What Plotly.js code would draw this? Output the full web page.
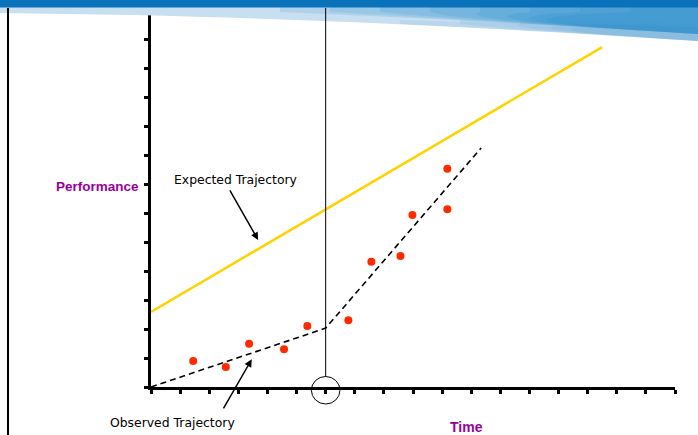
<!DOCTYPE html>
<html>
<head>
<meta charset="utf-8">
<script src="https://cdn.plot.ly/plotly-3.0.1.min.js"></script>
<style>html,body{margin:0;padding:0;background:#fff;}#chart{width:698px;height:435px;}</style>
</head>
<body>
<div id="chart"></div>
<script>
// ---- data ----
const expectedX = [0, 15.5];
const expectedY = [2.59, 11.72];
const observedX = [0, 6, 11.34];
const observedY = [0, 2.03, 8.24];
const pointsX = [1.45, 2.57, 3.37, 4.57, 5.37, 6.78, 7.57, 8.57, 8.98, 10.18, 10.18];
const pointsY = [0.90, 0.69, 1.49, 1.30, 2.10, 2.30, 4.32, 4.52, 5.93, 7.53, 6.13];
const interventionX = [6];
const xRange = [0, 18];
const yRange = [0, 13];
const labels = {x: 'Time', y: 'Performance', expected: 'Expected Trajectory', observed: 'Observed Trajectory'};

// ---- layout helpers (pixel -> paper) ----
const M = {l: 151, r: 23, t: 10, b: 48};
const PW = 698 - M.l - M.r, PH = 435 - M.t - M.b;
const px = x => (x - M.l) / PW;
const py = y => (435 - M.b - y) / PH;
const dx = v => (v - xRange[0]) / (xRange[1] - xRange[0]);
function path(pts){
  return pts.map(p => {
    let s = p[0];
    for (let i = 1; i < p.length; i += 2) s += ' ' + px(p[i]).toFixed(4) + ',' + py(p[i + 1]).toFixed(4);
    return s;
  }).join(' ');
}

const purple = '#990099';

const traces = [
  {x: expectedX, y: expectedY, mode: 'lines', line: {color: '#FFD200', width: 2.5}, hoverinfo: 'skip'},
  {x: observedX, y: observedY, mode: 'lines', line: {color: '#000', width: 1.6, dash: '6px,4px'}, hoverinfo: 'skip'},
  {x: pointsX, y: pointsY, mode: 'markers', marker: {color: '#FF2A00', size: 8}, hoverinfo: 'skip', cliponaxis: false}
];

const shapes = [];
// banner
shapes.push({type: 'path', xref: 'paper', yref: 'paper', line: {width: 0}, fillcolor: '#C8DEF1',
  path: path([['M', 0, 7], ['L', 698, 7], ['L', 698, 41], ['C', 520, 30, 300, 16, 0, 13], ['Z']])});
for (let i = 0; i < 8; i++) {
  const x0 = 280 + i * 50;
  shapes.push({type: 'path', xref: 'paper', yref: 'paper', line: {width: 0}, fillcolor: 'rgba(0,120,195,0.12)',
    path: path([['M', x0, 7], ['L', 698, 7], ['L', 698, 34], ['C', 600, 28, 450, 19, x0, 12], ['Z']])});
}
for (let i = 0; i < 5; i++) {
  const x0 = 400 + i * 60;
  shapes.push({type: 'path', xref: 'paper', yref: 'paper', line: {width: 0}, fillcolor: 'rgba(60,150,210,0.10)',
    path: path([['M', x0, 20], ['L', 698, 28], ['L', 698, 41], ['C', 600, 35, 500, 28, x0, 24], ['Z']])});
}
shapes.push({type: 'rect', xref: 'paper', yref: 'paper', line: {width: 0}, fillcolor: '#0A72BA',
  x0: px(0), x1: px(698), y0: py(0), y1: py(7.5)});
// left border
shapes.push({type: 'line', xref: 'paper', yref: 'paper', line: {color: '#000', width: 2},
  x0: px(8), x1: px(8), y0: py(8), y1: py(435)});
// intervention line and circle
const ix = dx(interventionX[0]);
shapes.push({type: 'line', xref: 'paper', yref: 'paper', line: {color: '#000', width: 1},
  x0: ix, x1: ix, y0: py(376.5), y1: py(8)});
shapes.push({type: 'circle', xref: 'paper', yref: 'paper', line: {color: '#000', width: 1},
  x0: ix - 14.3 / PW, x1: ix + 14.3 / PW, y0: py(404), y1: py(376.5)});

const txtFont = {family: 'DejaVu Sans, Verdana, sans-serif', size: 12.4, color: '#000'};
const annotations = [
  {x: 3.68, y: 5.07, ax: 2.68, ay: 6.83, xref: 'x', yref: 'y', axref: 'x', ayref: 'y', text: '', showarrow: true,
   arrowhead: 2, arrowsize: 1, arrowwidth: 1.5, arrowcolor: '#000'},
  {x: 3.46, y: 0.955, ax: 2.46, ay: -0.79, xref: 'x', yref: 'y', axref: 'x', ayref: 'y', text: '', showarrow: true,
   arrowhead: 2, arrowsize: 1, arrowwidth: 1.5, arrowcolor: '#000'},
  {x: px(235), y: py(180), xref: 'paper', yref: 'paper', xanchor: 'center', yanchor: 'middle',
   text: labels.expected, showarrow: false, font: txtFont},
  {x: px(172.5), y: py(422), xref: 'paper', yref: 'paper', xanchor: 'center', yanchor: 'middle',
   text: labels.observed, showarrow: false, font: txtFont},
  {x: px(141), y: py(186), xref: 'paper', yref: 'paper', xanchor: 'right', yanchor: 'middle', text: labels.y, showarrow: false,
   font: {family: 'Liberation Sans, Arial, sans-serif', size: 13.5, color: purple, weight: 'bold'}},
  {x: px(466), y: py(426.5), xref: 'paper', yref: 'paper', xanchor: 'center', yanchor: 'middle', text: labels.x, showarrow: false,
   font: {family: 'Liberation Sans, Arial, sans-serif', size: 14, color: purple, weight: 'bold'}}
];

const axisBase = {showline: true, linecolor: '#000', linewidth: 3, ticks: 'outside', ticklen: 4, tickwidth: 3,
  tickcolor: '#000', showticklabels: false, showgrid: false, zeroline: false, dtick: 1, tick0: 0, fixedrange: true};

const layout = {
  width: 698, height: 435,
  margin: M,
  paper_bgcolor: '#fff', plot_bgcolor: 'rgba(0,0,0,0)',
  showlegend: false,
  xaxis: Object.assign({}, axisBase, {range: xRange}),
  yaxis: Object.assign({}, axisBase, {range: yRange}),
  shapes: shapes,
  annotations: annotations
};

Plotly.newPlot('chart', traces, layout, {displayModeBar: false, staticPlot: true});
</script>
</body>
</html>
